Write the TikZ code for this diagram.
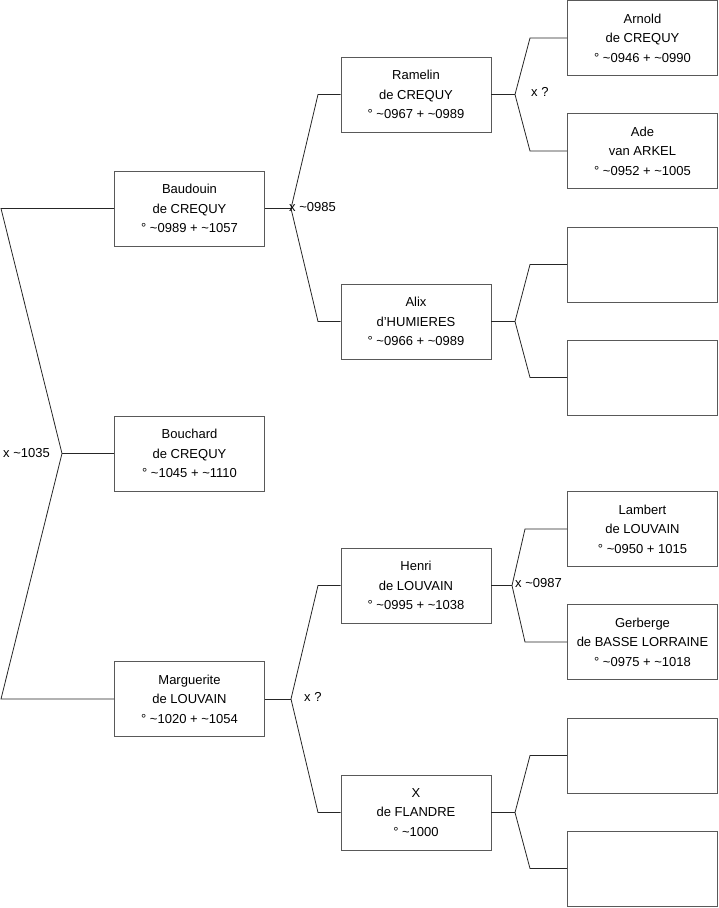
\documentclass[tikz,border=0pt]{standalone}
\usepackage{fontspec}
\setmainfont{Liberation Sans}
\begin{document}
\begin{tikzpicture}[x=1pt,y=-1pt,
  person/.style={draw=black!65, line width=0.9pt, fill=white, minimum width=150pt, minimum height=75pt, inner sep=0pt, align=center, font=\fontsize{13}{19.5}\selectfont},
  link/.style={draw=black!85, line width=0.8pt},
  lbl/.style={font=\fontsize{13}{14}\selectfont, inner sep=0pt}]
\useasboundingbox (0,0) rectangle (719,908);
% level 1
\node[person] (baud) at (189.5,208.5) {Baudouin\\de CREQUY\\° \textasciitilde0989 + \textasciitilde1057};
\node[person] (bouch) at (189.5,453.5) {Bouchard\\de CREQUY\\° \textasciitilde1045 + \textasciitilde1110};
\node[person] (marg) at (189.5,699) {Marguerite\\de LOUVAIN\\° \textasciitilde1020 + \textasciitilde1054};
% level 2
\node[person] (ram) at (416,94.5) {Ramelin\\de CREQUY\\° \textasciitilde0967 + \textasciitilde0989};
\node[person] (alix) at (416,321.5) {Alix\\d'HUMIERES\\° \textasciitilde0966 + \textasciitilde0989};
\node[person] (henri) at (416,585.5) {Henri\\de LOUVAIN\\° \textasciitilde0995 + \textasciitilde1038};
\node[person] (xfl) at (416,812.5) {X\\de FLANDRE\\° \textasciitilde1000};
% level 3
\node[person] (arn) at (642.5,38) {Arnold\\de CREQUY\\° \textasciitilde0946 + \textasciitilde0990};
\node[person] (ade) at (642.5,151) {Ade\\van ARKEL\\° \textasciitilde0952 + \textasciitilde1005};
\node[person] (e1) at (642.5,264.5) {};
\node[person] (e2) at (642.5,377.5) {};
\node[person] (lam) at (642.5,529) {Lambert\\de LOUVAIN\\° \textasciitilde0950 + 1015};
\node[person] (ger) at (642.5,642) {Gerberge\\de BASSE LORRAINE\\° \textasciitilde0975 + \textasciitilde1018};
\node[person] (e3) at (642.5,755.5) {};
\node[person] (e4) at (642.5,868.5) {};
% level 1 fork
\coordinate (f1) at (62,453.5);
\coordinate (f1a) at (1,208.5);
\coordinate (f1b) at (1,699);
\draw[link] (bouch.west) -- (f1);
\draw[link] (baud.west) -- (f1a) -- (f1);
\draw[link] (marg.west) -- (f1b) -- (f1);
\node[lbl, anchor=west] (l1) at (3,453) {x \textasciitilde1035};
% Baudouin fork
\coordinate (f2) at (291,208.5);
\coordinate (f2a) at (318,94.5);
\coordinate (f2b) at (318,321.5);
\draw[link] (baud.east) -- (f2);
\draw[link] (ram.west) -- (f2a) -- (f2) -- (f2b) -- (alix.west);
\node[lbl, anchor=west] (l2) at (289,207) {x \textasciitilde0985};
% Marguerite fork
\coordinate (f3) at (291,699);
\coordinate (f3a) at (318,585.5);
\coordinate (f3b) at (318,812.5);
\draw[link] (marg.east) -- (f3);
\draw[link] (henri.west) -- (f3a) -- (f3) -- (f3b) -- (xfl.west);
\node[lbl, anchor=west] (l3) at (304,697) {x ?};
% Ramelin fork
\coordinate (f4) at (515,94.5);
\coordinate (f4a) at (530,38);
\coordinate (f4b) at (530,151);
\draw[link] (ram.east) -- (f4);
\draw[link] (arn.west) -- (f4a) -- (f4) -- (f4b) -- (ade.west);
\node[lbl, anchor=west] (l4) at (531,92) {x ?};
% Alix fork
\coordinate (f5) at (515,321.5);
\coordinate (f5a) at (530,264.5);
\coordinate (f5b) at (530,377.5);
\draw[link] (alix.east) -- (f5);
\draw[link] (e1.west) -- (f5a) -- (f5) -- (f5b) -- (e2.west);
% Henri fork
\coordinate (f6) at (512,585.5);
\coordinate (f6a) at (525,529);
\coordinate (f6b) at (525,642);
\draw[link] (henri.east) -- (f6);
\draw[link] (lam.west) -- (f6a) -- (f6) -- (f6b) -- (ger.west);
\node[lbl, anchor=west] (l6) at (515,583) {x \textasciitilde0987};
% X fork
\coordinate (f7) at (515,812.5);
\coordinate (f7a) at (530,755.5);
\coordinate (f7b) at (530,868.5);
\draw[link] (xfl.east) -- (f7);
\draw[link] (e3.west) -- (f7a) -- (f7) -- (f7b) -- (e4.west);
\end{tikzpicture}
\end{document}
